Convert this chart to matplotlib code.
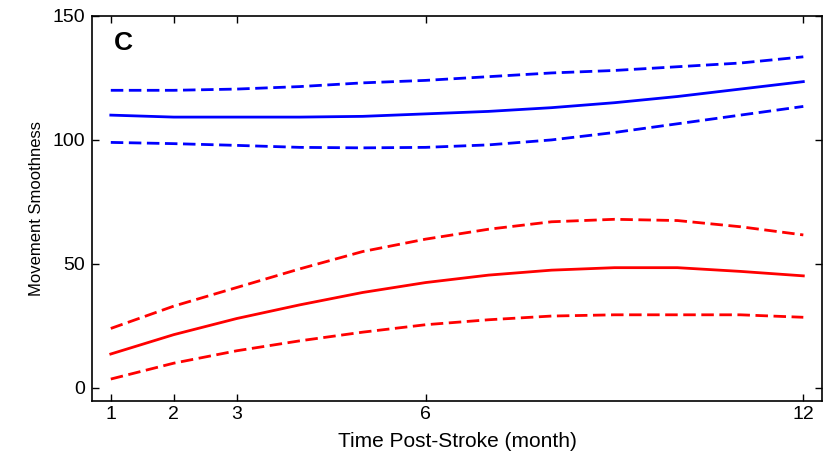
import matplotlib.pyplot as plt
from matplotlib import font_manager

# months after stroke
months = [1, 2, 3, 4, 5, 6, 7, 8, 9, 10, 11, 12]

# group 1 (blue): mean and band
blue_mean = [110, 109.2, 109.2, 109.2, 109.5, 110.5, 111.5, 113, 115, 117.5, 120.5, 123.5]
blue_upper = [120, 120, 120.5, 121.5, 123, 124, 125.5, 127, 128, 129.5, 131, 133.5]
blue_lower = [99, 98.5, 97.8, 97, 96.8, 97, 98, 100, 103, 106.5, 110, 113.5]

# group 2 (red): mean and band
red_mean = [13.7, 21.5, 28, 33.5, 38.5, 42.5, 45.5, 47.5, 48.5, 48.5, 47, 45.2]
red_upper = [24, 33, 40.5, 48, 55, 60, 64, 67, 68, 67.5, 65, 61.7]
red_lower = [3.6, 10, 15, 19, 22.5, 25.5, 27.5, 29, 29.5, 29.5, 29.5, 28.5]

x_ticks = [1, 2, 3, 6, 12]
y_ticks = [0, 50, 100, 150]

plt.rcParams['font.family'] = ['Liberation Sans', 'DejaVu Sans']

fig = plt.figure(figsize=(8.28, 4.54), dpi=100)
ax = fig.add_axes([0.111, 0.117, 0.882, 0.848])

lw = 2.0
dash = (0, (4.5, 2))
ax.plot(months, blue_mean, color='#0000ff', lw=lw)
ax.plot(months, blue_upper, color='#0000ff', lw=lw, ls=dash)
ax.plot(months, blue_lower, color='#0000ff', lw=lw, ls=dash)
ax.plot(months, red_mean, color='#ff0000', lw=lw)
ax.plot(months, red_upper, color='#ff0000', lw=lw, ls=dash)
ax.plot(months, red_lower, color='#ff0000', lw=lw, ls=dash)

ax.set_xlim(0.7, 12.3)
ax.set_ylim(-5.2, 150)
ax.set_xticks(x_ticks)
ax.set_yticks(y_ticks)
ax.tick_params(direction='in', length=5, width=1, top=True, right=True,
               labelsize=14)
ax.tick_params(axis='x', pad=4)
ax.tick_params(axis='y', pad=5)
for s in ax.spines.values():
    s.set_linewidth(1.2)

ax.set_xlabel('Time Post-Stroke (month)', fontsize=15, labelpad=6)
names = [f.name for f in font_manager.fontManager.ttflist]
ylab_family = 'Liberation Sans Narrow' if 'Liberation Sans Narrow' in names else 'Liberation Sans'
ax.set_ylabel('Movement Smoothness', fontsize=12, family=ylab_family, labelpad=6)

ax.text(1.05, 139, 'C', fontsize=19, fontweight='bold', va='center')

fig.savefig('out.png', dpi=100)
